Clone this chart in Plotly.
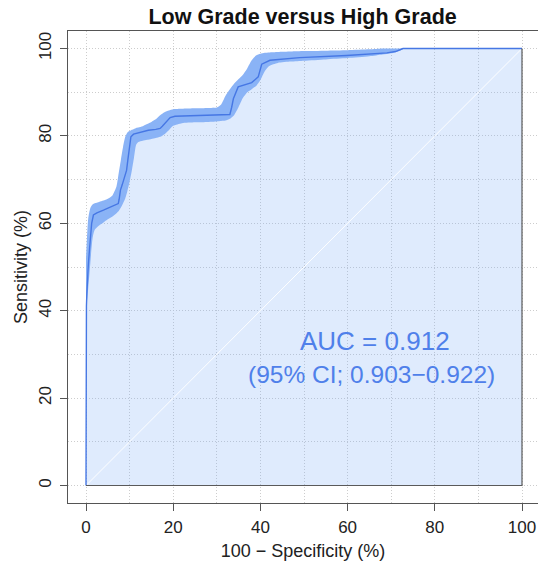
import plotly.graph_objects as go

# ROC curve (100 - specificity, sensitivity), in %
fpr = [0, 0, 0.1, 0.2, 0.3, 0.5, 0.8, 1.0, 1.3, 1.7, 2.5, 4.0, 5.5, 6.7, 7.4,
       7.6, 7.9, 8.3, 8.6, 9.0, 9.3, 9.6, 9.9, 10.3, 10.9, 12.5, 14.3, 16.0, 17.0, 17.5,
       18.1, 19.3, 20.4, 26.0, 30.0, 33.0, 33.4, 33.8, 34.9, 36.1, 38.0, 39.5, 40.0, 40.3,
       42.2, 49.0, 59.8, 65.0, 69.0, 71.0, 72.0, 72.7, 100]
tpr = [0, 40, 41, 44, 47, 50, 54, 57, 60, 61.9, 62.4, 63.0, 63.6, 64.2, 64.5,
       65.5, 67.6, 68.8, 69.9, 71.0, 72.1, 74.5, 76.7, 79.8, 80.4, 80.9, 81.3, 81.5, 81.7, 82.2,
       82.8, 84.2, 84.5, 84.7, 84.8, 84.9, 86.5, 88.5, 91.2, 91.6, 92.2, 93.5, 95.0, 96.4,
       97.3, 97.9, 98.4, 98.7, 99.0, 99.3, 99.7, 100, 100]

# 95% CI band of sensitivity
ci_x = [0, 0.5, 1, 1.5, 2, 3, 4, 5, 6, 7, 7.5, 8, 8.5, 9, 9.5, 10, 10.5, 11, 11.5, 12,
        13, 14, 15, 16, 17, 18, 19, 20, 22, 25, 28, 30, 31, 32, 33, 34, 35, 36, 37, 38,
        39, 40, 41, 42, 44, 47, 50, 55, 60, 65, 68, 70, 72, 73]
ci_upper = [52, 61, 63.5, 64.3, 64.6, 64.9, 65.2, 65.6, 66.3, 68.5, 71.5, 74.5, 77.5, 79.8,
            80.8, 81.1, 81.4, 81.6, 81.8, 81.9, 82.2, 82.7, 83.2, 83.8, 84.7, 85.4, 85.8, 86.1,
            86.2, 86.3, 86.4, 86.5, 87.2, 89.2, 90.7, 92.0, 93.0, 94.0, 95.5, 97.3, 98.4, 98.8,
            99.0, 99.1, 99.2, 99.3, 99.4, 99.5, 99.6, 99.8, 100, 100, 100, 100]
ci_lower = [40, 45, 51, 56.5, 58.5, 59.5, 60.2, 60.9, 61.5, 62.3, 62.8, 63.6, 64.6, 65.7,
            67.4, 69.5, 72.0, 75.0, 78.0, 78.6, 78.9, 79.1, 79.3, 79.5, 79.8, 80.4, 81.3, 82.3,
            82.9, 83.1, 83.2, 83.3, 83.4, 83.5, 83.9, 84.8, 86.6, 88.7, 90.0, 90.7, 91.4, 92.8,
            94.8, 96.0, 96.7, 97.0, 97.2, 97.5, 97.8, 98.2, 98.6, 98.9, 99.5, 100]

title_text = "Low Grade versus High Grade"
x_title = "100 \u2212 Specificity (%)"
y_title = "Sensitivity (%)"
auc_text = "AUC = 0.912"
ci_text = "(95% CI; 0.903\u22120.922)"
tick_vals = [0, 20, 40, 60, 80, 100]

FONT = "Liberation Sans, Arial, Helvetica, sans-serif"
FILL = "rgba(120,170,245,0.24)"
BAND = "#8ab3f6"
LINE = "#4677e4"
TXT = "#4f80ea"
GRID = "#cdcdcd"

fig = go.Figure()

# area under the curve
fig.add_trace(go.Scatter(
    x=[0] + fpr + [100, 0], y=[0] + tpr + [0, 0],
    mode="lines", fill="toself", fillcolor=FILL,
    line=dict(width=0), hoverinfo="skip", showlegend=False))

# chance diagonal
fig.add_trace(go.Scatter(
    x=[0, 100], y=[0, 100], mode="lines",
    line=dict(color="rgba(255,255,255,0.95)", width=1),
    hoverinfo="skip", showlegend=False))

# CI band
fig.add_trace(go.Scatter(
    x=ci_x + ci_x[::-1], y=ci_upper + ci_lower[::-1],
    mode="lines", fill="toself", fillcolor=BAND,
    line=dict(width=0, shape="spline", smoothing=0.6),
    hoverinfo="skip", showlegend=False))

# ROC curve
fig.add_trace(go.Scatter(
    x=fpr, y=tpr, mode="lines",
    line=dict(color=LINE, width=1.4),
    showlegend=False))

# polygon edges on right and bottom
fig.add_trace(go.Scatter(
    x=[100, 100, 0], y=[100, 0, 0], mode="lines",
    line=dict(color="#5a5a5a", width=1.2),
    hoverinfo="skip", showlegend=False))

fig.add_annotation(x=66.3, y=33.1, text=auc_text, showarrow=False,
                   font=dict(family=FONT, size=26, color=TXT),
                   xanchor="center", yanchor="middle")
fig.add_annotation(x=65.5, y=25.3, text=ci_text, showarrow=False,
                   font=dict(family=FONT, size=24.5, color=TXT),
                   xanchor="center", yanchor="middle")

axis_common = dict(
    showgrid=True, gridcolor=GRID, gridwidth=1, griddash="1px,2px",
    zeroline=False, showline=True, linecolor="#555555", linewidth=1.2,
    ticks="outside", ticklen=7, tickwidth=1.2, tickcolor="#555555",
    tickvals=tick_vals, ticktext=[str(v) for v in tick_vals],
    tickfont=dict(family=FONT, size=17, color="#222222"),
    minor=dict(dtick=10, tick0=0, showgrid=True, gridcolor=GRID,
               gridwidth=1, griddash="1px,2px", ticks=""),
    automargin=False,
)

fig.update_xaxes(range=[-4.13, 103.67], mirror=True,
                 title=dict(text=x_title, font=dict(family=FONT, size=18, color="#222222"),
                            standoff=8),
                 ticklabelstandoff=1, **axis_common)
fig.update_yaxes(range=[-4, 104], mirror=False, tickangle=-90,
                 title=dict(text=y_title, font=dict(family=FONT, size=18, color="#222222"),
                            standoff=3),
                 ticklabelstandoff=2, **axis_common)

fig.update_layout(
    width=538, height=562,
    margin=dict(l=68, r=0, t=31, b=59),
    plot_bgcolor="white", paper_bgcolor="white",
    title=dict(text="<b>" + title_text + "</b>", x=0.5625, xanchor="center",
               y=(562 - 16) / 562, yanchor="middle", yref="container",
               font=dict(family=FONT, size=21.5, color="#111111")),
    showlegend=False,
)

fig.write_html("out.html", config={"displayModeBar": False},
               post_script="document.body.style.margin='0';document.body.style.padding='0';")
